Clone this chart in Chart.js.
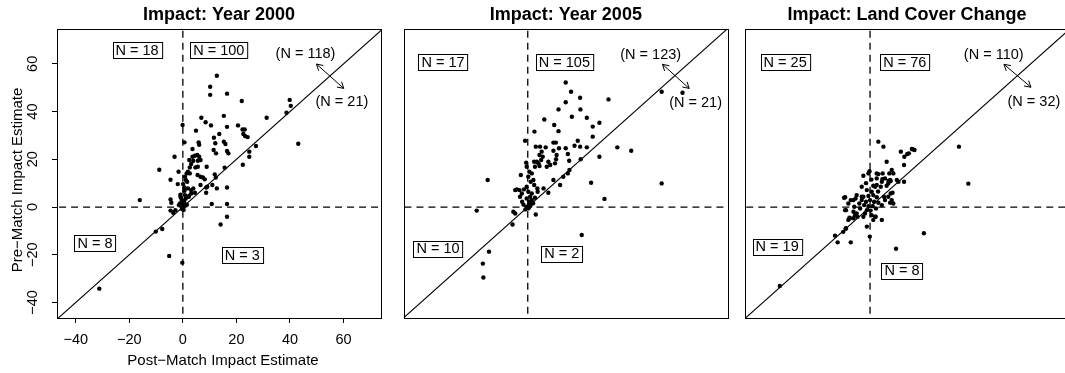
<!DOCTYPE html>
<html>
<head>
<meta charset="utf-8">
<script src="https://cdn.jsdelivr.net/npm/chart.js@4/dist/chart.umd.min.js"></script>
<style>
  html, body { margin: 0; padding: 0; background: #fff; overflow: hidden; }
  body { width: 1065px; height: 373px; position: relative; }
  .panel { position: absolute; top: 0; height: 373px; }
</style>
</head>
<body>
<div class="panel" style="left:0;width:395px"><canvas id="p2000"></canvas></div>
<div class="panel" style="left:390px;width:350px"><canvas id="p2005"></canvas></div>
<div class="panel" style="left:735px;width:345px"><canvas id="pLand"></canvas></div>
<script>
// ---- data ----
const titles = ['Impact: Year 2000', 'Impact: Year 2005', 'Impact: Land Cover Change'];
const axisTicks = [-40, -20, 0, 20, 40, 60];
const xLabel = 'Post\u2212Match Impact Estimate';
const yLabel = 'Pre\u2212Match Impact Estimate';

// quadrant counts: upper-left, upper-right, lower-left, lower-right
const quad2000 = ['N = 18', 'N = 100', 'N = 8', 'N = 3'];
const quad2005 = ['N = 17', 'N = 105', 'N = 10', 'N = 2'];
const quadLand = ['N = 25', 'N = 76', 'N = 19', 'N = 8'];
// above / below the 45 degree line
const diag2000 = ['(N = 118)', '(N = 21)'];
const diag2005 = ['(N = 123)', '(N = 21)'];
const diagLand = ['(N = 110)', '(N = 32)'];

const post2000 = [12.7,10.2,10.2,16.5,22.0,39.9,40.3,38.7,31.3,15.3,6.9,8.5,10.5,16.5,20.6,22.3,23.1,22.6,23.3,24.2,4.9,-0.1,0.6,5.9,6.1,3.6,11.6,13.6,12.1,15.3,15.9,11.5,12.4,16.5,17.0,24.8,24.8,27.3,22.4,43.1,-3.1,-8.8,-16.1,-4.6,-1.9,-1.6,2.4,3.6,4.5,5.4,6.1,6.6,5.6,3.9,3.1,2.6,4.7,8.9,5.6,1.9,1.4,0.8,1.1,1.6,2.6,5.5,6.6,7.5,8.2,11.9,12.3,11.0,8.7,8.7,15.6,12.7,16.5,10.8,16.5,16.5,14.1,-10.1,-7.7,-5.1,-0.2,-31.2,-4.6,-4.3,-4.6,-3.6,-2.8,-0.9,-0.4,-1.1,-0.1,0.4,1.1,2.3,3.1,4.5,3.9,1.9,0.6,0.1,0.6,-0.9,-0.1,-1.5,0.8,3.1,2.2,-0.3,0.3,1.0,0.5,-0.6,1.5,6.6,9.1];
const pre2000 = [55.0,50.4,47.0,47.5,44.4,44.9,42.4,39.5,37.4,38.2,37.4,35.5,34.2,33.6,34.2,32.5,32.5,30.6,29.7,29.3,32.0,34.4,27.1,27.1,26.1,24.3,29.0,30.6,26.7,27.4,26.4,23.9,22.5,23.5,22.5,23.2,21.1,25.6,17.7,26.5,21.1,15.6,2.9,11.4,9.6,14.8,19.7,21.1,21.5,21.8,21.1,19.7,19.4,19.4,18.0,16.6,16.6,16.9,16.9,14.8,14.1,12.7,11.3,10.6,14.1,13.4,12.7,12.4,11.6,13.7,12.4,9.2,8.2,6.0,16.5,7.8,8.2,1.3,1.3,-4.1,-7.3,-10.3,-9.2,-20.5,-23.3,-34.2,3.2,1.8,-1.5,-2.4,-1.3,4.3,2.9,1.5,0.1,1.8,3.6,4.6,5.7,6.0,7.8,7.8,6.8,9.6,8.2,5.2,1.5,0.8,5.0,7.1,4.3,-0.8,-1.2,0.6,2.5,3.8,1.0,9.2,8.5];

const post2005 = [14.2,16.2,19.6,14.2,30.2,11.5,19.7,16.5,22.1,24.3,26.8,24.3,6.2,9.9,11.5,2.5,-1.0,3.0,4.6,6.7,9.6,10.5,11.7,14.2,18.7,19.6,22.1,15.0,17.5,9.6,5.2,4.4,3.4,4.0,5.0,5.6,2.4,2.7,4.4,10.8,10.6,10.2,8.4,7.1,7.7,15.5,19.8,26.8,33.5,38.7,50.1,57.9,50.1,23.7,28.7,20.2,15.6,15.0,13.3,12.1,9.6,7.7,5.9,-15.0,-19.1,-5.4,-4.7,-5.7,-14.5,-16.8,-16.6,3.0,-2.6,-0.6,-0.4,0.6,1.5,0.2,1.1,2.1,2.4,-0.4,-1.4,-3.1,-4.1,-4.7,-2.2,0.2,1.5,0.9,-0.4,0.5,1.5,-0.4,-0.9,0.6,3.7,3.6,2.7,-2.9,-2.1,1.0,0.3,-1.6,2.0];
const pre2005 = [52.2,48.3,45.8,43.9,45.1,40.9,40.9,37.8,37.4,33.7,35.3,29.5,36.7,34.4,31.8,31.6,27.8,25.3,25.3,25.0,27.0,27.0,24.6,24.6,27.8,25.3,25.0,22.2,25.7,23.6,23.2,21.8,19.0,18.3,19.7,21.1,19.0,16.9,17.2,21.8,20.0,18.3,17.6,16.9,19.0,19.4,20.0,21.1,25.0,23.6,48.3,47.9,9.9,10.2,3.4,-11.7,15.5,14.1,12.7,9.2,11.3,6.0,7.8,11.3,-1.5,-2.0,-2.7,-7.3,-18.7,-23.7,-29.5,-3.1,13.4,18.6,16.9,14.8,14.1,12.7,10.6,11.3,9.2,8.5,7.4,7.1,7.4,7.1,5.7,6.4,5.7,4.3,3.6,2.2,2.9,0.1,-1.0,1.3,6.4,7.8,3.9,4.3,2.2,0.5,-0.5,1.0,1.6];

const postLand = [-33.7,-13.1,-12.1,-7.2,-9.1,-0.1,9.7,20.1,33.2,36.7,3.1,5.0,11.5,14.5,15.6,16.6,6.2,12.8,12.7,-2.5,-0.6,2.5,4.7,8.1,8.7,6.9,7.7,5.6,4.4,10.6,6.2,4.0,2.5,1.2,8.4,7.5,5.2,-5.0,-5.4,-7.2,-9.7,-9.0,-5.9,-5.0,-4.7,-6.2,-7.7,2.1,4.4,-1.2,-1.2,0.6,-2.5,-0.6,1.2,2.5,-3.1,-1.5,0.0,1.5,3.1,-2.2,-0.6,1.0,2.2,-1.2,0.2,-3.7,-1.9,-2.5,0.6,4.4,1.9,-3.1,-1.5,0.5,3.0,-4.0,-0.2,7.2,3.1,2.5,4.6,7.5,6.8,10.0,12.7,-3.1,-9.3,-6.2,-8.1,-9.3,-6.2,-5.6,-7.5,-8.1,-9.0,-10.0,7.7,6.8,8.1,5.6,8.7,1.2,1.9,13.9,15.9];
const preLand = [-33.1,-12.0,-14.8,-14.8,-9.1,-12.4,-17.5,-11.0,25.3,9.8,27.4,25.3,23.2,22.5,24.3,23.9,19.0,21.1,17.6,13.1,14.1,14.1,14.1,15.5,14.1,10.9,10.9,12.0,10.6,10.6,8.9,8.5,9.2,8.9,6.0,1.8,4.3,5.0,3.6,2.9,3.9,-1.3,0.1,-2.7,-4.1,-4.7,-4.5,-4.1,-5.4,-8.2,7.1,6.4,4.3,4.6,5.0,4.1,2.9,2.2,2.9,2.2,1.8,0.8,0.4,0.4,-0.6,-1.3,-1.5,-0.6,-2.7,-4.1,-3.4,0.8,8.5,8.5,10.0,11.5,6.5,1.5,15.0,14.1,13.8,12.0,11.7,11.3,9.9,11.3,10.6,4.3,4.1,2.9,1.5,-1.3,-2.0,-3.4,-4.7,-5.4,-8.9,-10.4,5.7,4.3,2.9,2.9,1.5,-5.4,-4.1,22.2,24.2];

// reference lines (45 degree line and the two zero lines)
const diagLine = [{ x: -100, y: -100 }, { x: 100, y: 100 }];
const zeroV = [{ x: 0, y: -100 }, { x: 0, y: 100 }];
const zeroH = [{ x: -100, y: 0 }, { x: 100, y: 0 }];

// ---- layout (in data units of each panel) ----
const FONT = '"Liberation Sans", Arial, Helvetica, sans-serif';
const panels = [
  { id: 'p2000', title: titles[0], x: post2000, y: pre2000, quad: quad2000, diag: diag2000, axes: true,
    xr: [-47, 74], pad: { left: 0, right: 14, top: 29, bottom: 0 },
    quadPos: [[-17.1, 65.7], [13.4, 65.7], [-32.8, -15.2], [22.2, -20.3]],
    diagPos: [[45.8, 64.1], [59.4, 44.2]], arrow: [[49.9, 59.9], [60.1, 49.7]] },
  { id: 'p2005', title: titles[1], x: post2005, y: pre2005, quad: quad2005, diag: diag2005, axes: false,
    xr: [-46.3, 74.8], pad: { left: 14, right: 12.3, top: 29, bottom: 55 },
    quadPos: [[-31.7, 60.6], [13.7, 60.6], [-33.6, -17.5], [12.7, -19.6]],
    diagPos: [[46.0, 63.7], [62.8, 43.5]], arrow: [[50.4, 59.8], [60.4, 49.7]] },
  { id: 'pLand', title: titles[2], x: postLand, y: preLand, quad: quadLand, diag: diagLand, axes: false,
    xr: [-46.7, 74.3], pad: { left: 10, right: 11, top: 29, bottom: 55 },
    quadPos: [[-31.7, 60.6], [13.0, 60.6], [-34.7, -16.6], [11.9, -26.6]],
    diagPos: [[46.2, 63.7], [61.2, 44.0]], arrow: [[50.0, 59.8], [60.1, 50.2]] },
];
const YR = [-46.5, 74.6];

const minus = v => (v < 0 ? '\u2212' + Math.abs(v) : String(v));

function arrowHead(ctx, x0, y0, x1, y1, len) {
  const a = Math.atan2(y1 - y0, x1 - x0);
  ctx.beginPath();
  ctx.moveTo(x1 - len * Math.cos(a - Math.PI / 6), y1 - len * Math.sin(a - Math.PI / 6));
  ctx.lineTo(x1, y1);
  ctx.lineTo(x1 - len * Math.cos(a + Math.PI / 6), y1 - len * Math.sin(a + Math.PI / 6));
  ctx.stroke();
}

// draws frame, titles, labels, boxed counts and the arrow
const panelDecor = {
  id: 'panelDecor',
  afterDraw(chart, args, o) {
    const { ctx, chartArea: ca, scales } = chart;
    const sx = v => scales.x.getPixelForValue(v);
    const sy = v => scales.y.getPixelForValue(v);
    ctx.save();
    ctx.fillStyle = '#000';
    ctx.strokeStyle = '#000';
    ctx.lineWidth = 1;

    // frame
    ctx.strokeRect(Math.round(ca.left) + 0.5, Math.round(ca.top) + 0.5,
      Math.round(ca.right - ca.left), Math.round(ca.bottom - ca.top));

    // title
    ctx.font = 'bold 18px ' + FONT;
    ctx.textAlign = 'center';
    ctx.textBaseline = 'middle';
    ctx.fillText(o.title, (ca.left + ca.right) / 2, 15);

    ctx.font = '14.5px ' + FONT;
    // quadrant counts in boxes
    o.quad.forEach((txt, i) => {
      const px = sx(o.quadPos[i][0]), py = sy(o.quadPos[i][1]);
      const w = ctx.measureText(txt).width + 6, h = 16;
      const bx = Math.round(px - w / 2) + 0.5, by = Math.round(py - h / 2) + 0.5;
      ctx.fillStyle = '#fff';
      ctx.fillRect(bx, by, w, h);
      ctx.strokeRect(bx, by, w, h);
      ctx.fillStyle = '#000';
      ctx.fillText(txt, px, py + 0.5);
    });
    // counts above / below the diagonal
    o.diag.forEach((txt, i) => ctx.fillText(txt, sx(o.diagPos[i][0]), sy(o.diagPos[i][1])));
    const [a0, a1] = o.arrow;
    const x0 = sx(a0[0]), y0 = sy(a0[1]), x1 = sx(a1[0]), y1 = sy(a1[1]);
    ctx.beginPath();
    ctx.moveTo(x0, y0);
    ctx.lineTo(x1, y1);
    ctx.stroke();
    arrowHead(ctx, x0, y0, x1, y1, 7);
    arrowHead(ctx, x1, y1, x0, y0, 7);

    if (o.axes) {
      // y tick labels, parallel to the axis as in R
      scales.y.ticks.forEach(t => {
        ctx.save();
        ctx.translate(33, sy(t.value));
        ctx.rotate(-Math.PI / 2);
        ctx.fillText(minus(t.value), 0, 0);
        ctx.restore();
      });
      ctx.font = '15px ' + FONT;
      ctx.fillText(o.xLabel, 223, 361);
      ctx.save();
      ctx.translate(18, 180);
      ctx.rotate(-Math.PI / 2);
      ctx.fillText(o.yLabel, 0, 0);
      ctx.restore();
    }
    ctx.restore();
  }
};

const refLine = (data, dash) => ({
  data, showLine: true, pointRadius: 0, borderColor: '#000', borderWidth: dash.length ? 1.3 : 1.1,
  borderDash: dash, fill: false,
});

panels.forEach(p => {
  const points = p.x.map((v, i) => ({ x: v, y: p.y[i] }));
  const axisOpts = (min, max, isX) => ({
    type: 'linear', min, max,
    display: p.axes,
    afterFit: s => { if (!p.axes) return; if (isX) s.height = 55; else s.width = 57; },
    border: { display: false },
    grid: { drawOnChartArea: false, tickLength: 5, color: '#000', lineWidth: 1 },
    ticks: {
      display: isX, stepSize: 20, includeBounds: false, color: '#000',
      font: { family: FONT, size: 14.5 }, padding: 8, maxRotation: 0,
      callback: minus,
    },
  });
  new Chart(document.getElementById(p.id), {
    type: 'scatter',
    data: {
      datasets: [
        { data: points, pointRadius: 2.2, pointBackgroundColor: '#000', pointBorderWidth: 0 },
        refLine(diagLine, []),
        refLine(zeroV, [7, 5]),
        refLine(zeroH, [7, 5]),
      ]
    },
    options: {
      responsive: true,
      maintainAspectRatio: false,
      animation: false,
      layout: { padding: p.pad },
      scales: { x: axisOpts(p.xr[0], p.xr[1], true), y: axisOpts(YR[0], YR[1], false) },
      plugins: {
        legend: { display: false },
        tooltip: { enabled: false },
        panelDecor: {
          title: p.title, quad: p.quad, quadPos: p.quadPos, diag: p.diag, diagPos: p.diagPos,
          arrow: p.arrow, axes: p.axes, xLabel, yLabel,
        },
      },
    },
    plugins: [panelDecor],
  });
});
</script>
</body>
</html>
